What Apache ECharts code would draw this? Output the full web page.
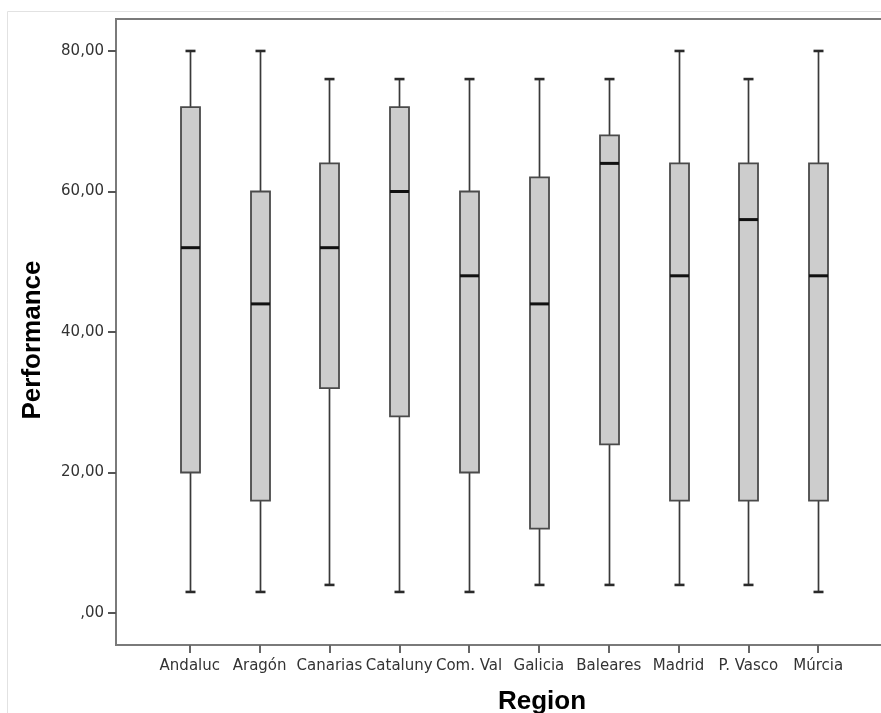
<!DOCTYPE html>
<html>
<head>
<meta charset="utf-8">
<script src="https://cdn.jsdelivr.net/npm/echarts@6/dist/echarts.min.js"></script>
<style>html,body{margin:0;padding:0;background:#fff;}#c{width:881px;height:713px;}</style>
</head>
<body>
<div id="c"></div>
<script>
const categories = ['Andaluc','Aragón','Canarias','Cataluny','Com. Val','Galicia','Baleares','Madrid','P. Vasco','Múrcia'];
const minValues    = [3, 3, 4, 3, 3, 4, 4, 4, 4, 3];
const q1Values     = [20, 16, 32, 28, 20, 12, 24, 16, 16, 16];
const medianValues = [52, 44, 52, 60, 48, 44, 64, 48, 56, 48];
const q3Values     = [72, 60, 64, 72, 60, 62, 68, 64, 64, 64];
const maxValues    = [80, 80, 76, 76, 76, 76, 76, 80, 76, 80];
const yTickValues  = [0, 20, 40, 60, 80];
const yTickLabels  = [',00', '20,00', '40,00', '60,00', '80,00'];
const xTitle = 'Region';
const yTitle = 'Performance';

const boxData = categories.map((c, i) => [i, minValues[i], q1Values[i], medianValues[i], q3Values[i], maxValues[i]]);
const xTicks = categories.map((c, i) => i);

function renderItem(params, api) {
  const x = api.value(0);
  const pMin = api.coord([x, api.value(1)]);
  const pQ1 = api.coord([x, api.value(2)]);
  const pMed = api.coord([x, api.value(3)]);
  const pQ3 = api.coord([x, api.value(4)]);
  const pMax = api.coord([x, api.value(5)]);
  const cx = Math.round(pMin[0]) + 0.5;
  const bw = 19, cw = 10;
  const wStyle = { stroke: '#3a3a3a', lineWidth: 1.7 };
  const capStyle = { stroke: '#2a2a2a', lineWidth: 2.6 };
  return {
    type: 'group',
    children: [
      { type: 'line', shape: { x1: cx, y1: pMax[1], x2: cx, y2: pQ3[1] }, style: wStyle },
      { type: 'line', shape: { x1: cx, y1: pQ1[1], x2: cx, y2: pMin[1] }, style: wStyle },
      { type: 'line', shape: { x1: cx - cw / 2, y1: pMax[1], x2: cx + cw / 2, y2: pMax[1] }, style: capStyle },
      { type: 'line', shape: { x1: cx - cw / 2, y1: pMin[1], x2: cx + cw / 2, y2: pMin[1] }, style: capStyle },
      { type: 'rect', shape: { x: cx - bw / 2, y: pQ3[1], width: bw, height: pQ1[1] - pQ3[1] },
        style: { fill: '#cdcdcd', stroke: '#4a4a4a', lineWidth: 1.8 } },
      { type: 'line', shape: { x1: cx - bw / 2, y1: pMed[1], x2: cx + bw / 2, y2: pMed[1] },
        style: { stroke: '#111', lineWidth: 3 } }
    ]
  };
}

const chart = echarts.init(document.getElementById('c'), null, { renderer: 'canvas' });
chart.setOption({
  animation: false,
  backgroundColor: '#fff',
  graphic: [
    {
      type: 'rect', silent: true,
      shape: { x: 7.5, y: 11.5, width: 900, height: 720 },
      style: { fill: 'none', stroke: '#e2e2e2', lineWidth: 1 }
    },
    {
      type: 'text', silent: true, x: 542, y: 702,
      style: { text: xTitle, font: 'bold 26px "Liberation Sans", Arial, sans-serif', fill: '#000',
               align: 'center', verticalAlign: 'middle' }
    },
    {
      type: 'text', silent: true, x: 33, y: 340, rotation: Math.PI / 2,
      style: { text: yTitle, font: 'bold 26px "Liberation Sans", Arial, sans-serif', fill: '#000',
               align: 'center', verticalAlign: 'middle' }
    }
  ],
  grid: {
    left: 116, top: 19, width: 776, height: 626,
    outerBoundsMode: 'none', containLabel: false,
    show: true, borderColor: '#7a7a7a', borderWidth: 2, backgroundColor: 'transparent'
  },
  xAxis: {
    type: 'value', min: -1.057, max: 10.057,
    axisLine: { show: true, onZero: false, lineStyle: { color: '#7a7a7a', width: 2 } },
    axisTick: { show: true, length: 8, customValues: xTicks, lineStyle: { color: '#666', width: 2 } },
    axisLabel: {
      show: true, customValues: xTicks, margin: 14, hideOverlap: false,
      fontFamily: 'DejaVu Sans', fontSize: 15, color: '#333',
      formatter: (v) => categories[Math.round(v)] ?? ''
    },
    splitLine: { show: false }
  },
  yAxis: {
    type: 'value', min: -4.55, max: 84.55,
    axisLine: { show: true, onZero: false, lineStyle: { color: '#7a7a7a', width: 2 } },
    axisTick: { show: true, length: 8, customValues: yTickValues, lineStyle: { color: '#555', width: 2 } },
    axisLabel: {
      show: true, customValues: yTickValues, margin: 12,
      fontFamily: 'DejaVu Sans', fontSize: 15, color: '#333',
      formatter: (v) => yTickLabels[yTickValues.indexOf(Math.round(v))] ?? ''
    },
    splitLine: { show: false }
  },
  series: [{
    type: 'custom',
    renderItem: renderItem,
    encode: { x: 0, y: [1, 2, 3, 4, 5] },
    data: boxData
  }]
});
</script>
</body>
</html>
